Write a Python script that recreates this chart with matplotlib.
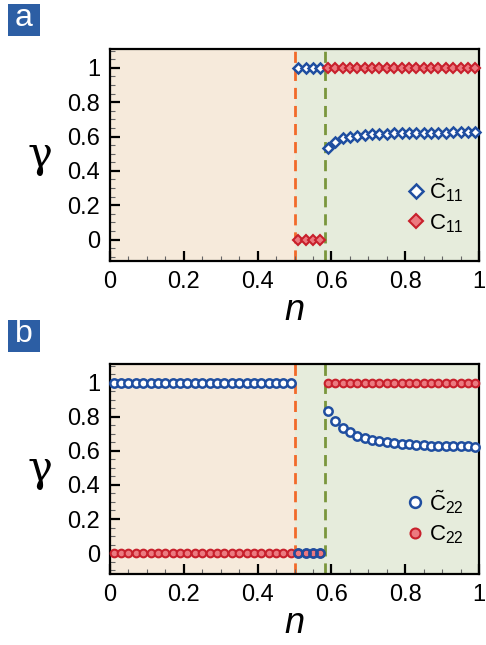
import numpy as np
import matplotlib.pyplot as plt
from matplotlib.patches import Rectangle
from matplotlib.ticker import MultipleLocator

plt.rcParams['font.family'] = ['Liberation Sans', 'DejaVu Sans']
plt.rcParams['mathtext.fontset'] = 'custom'
plt.rcParams['mathtext.rm'] = 'Liberation Sans'
plt.rcParams['mathtext.it'] = 'Liberation Sans:italic'

# n grid
n_mid = [0.51, 0.53, 0.55, 0.57]
n_right = [0.59, 0.61, 0.63, 0.65, 0.67, 0.69, 0.71, 0.73, 0.75, 0.77, 0.79,
           0.81, 0.83, 0.85, 0.87, 0.89, 0.91, 0.93, 0.95, 0.97, 0.99]
n_left = [0.01, 0.03, 0.05, 0.07, 0.09, 0.11, 0.13, 0.15, 0.17, 0.19, 0.21,
          0.23, 0.25, 0.27, 0.29, 0.31, 0.33, 0.35, 0.37, 0.39, 0.41, 0.43,
          0.45, 0.47, 0.49]

# panel a
c11t_n = n_mid + n_right
c11t = [1, 1, 1, 1,
        0.533, 0.566, 0.589, 0.600, 0.606, 0.610, 0.613, 0.615, 0.617, 0.618,
        0.619, 0.620, 0.621, 0.622, 0.622, 0.623, 0.623, 0.624, 0.624, 0.625, 0.625]
c11_n = n_mid + n_right
c11 = [0, 0, 0, 0] + [1.0] * 21

# panel b
c22t_n = n_left + n_right
c22t = [1.0] * 25 + [0.835, 0.773, 0.734, 0.708, 0.689, 0.676, 0.664, 0.656,
                     0.650, 0.645, 0.641, 0.638, 0.635, 0.633, 0.631, 0.630,
                     0.628, 0.627, 0.626, 0.626, 0.625]
c22t_mid = [0, 0, 0, 0]
c22_n = n_left + n_mid + n_right
c22 = [0.0] * 25 + [0, 0, 0, 0] + [1.0] * 21

n_c1 = 0.5
n_c2 = 0.583

blue = '#1f4ea0'
red_edge = '#c8202c'
red_face = '#ec7a80'
beige = '#f6eadb'
green = '#e6ecdc'

fig = plt.figure(figsize=(4.86, 6.45), dpi=100)
ax_a = fig.add_axes([0.2263, 0.5953, 0.7595, 0.3287])
ax_b = fig.add_axes([0.2263, 0.1095, 0.7595, 0.3262])

for ax in (ax_a, ax_b):
    ax.axvspan(0, n_c1, color=beige, zorder=0, lw=0)
    ax.axvspan(n_c1, 1, color=green, zorder=0, lw=0)
    ax.axvline(n_c1, color='#f26a2a', ls=(0, (4, 2.5)), lw=2, zorder=1)
    ax.axvline(n_c2, color='#7a963c', ls=(0, (4, 2.5)), lw=2, zorder=1)
    ax.set_xlim(0, 1)
    ax.set_ylim(-0.125, 1.11)
    ax.xaxis.set_minor_locator(MultipleLocator(0.05))
    ax.yaxis.set_minor_locator(MultipleLocator(0.05))
    ax.set_xticks([0, 0.2, 0.4, 0.6, 0.8, 1.0])
    ax.set_xticklabels(['0', '0.2', '0.4', '0.6', '0.8', '1'])
    ax.set_yticks([0, 0.2, 0.4, 0.6, 0.8, 1.0])
    ax.set_yticklabels(['0', '0.2', '0.4', '0.6', '0.8', '1'])
    ax.tick_params(which='major', direction='in', length=7, width=1.6, labelsize=17, pad=7)
    ax.tick_params(which='minor', direction='in', length=3.5, width=0.8, color='#666666')
    ax.tick_params(top=False, right=False)
    for s in ax.spines.values():
        s.set_linewidth(1.6)
    ax.set_xlabel('$n$', fontsize=26, labelpad=0)
    ax.set_ylabel('γ', fontsize=30, rotation=0, family='DejaVu Serif', labelpad=20, va='center')

ax_a.plot(c11t_n, c11t, 'D', ms=5.4, mfc='white', mec=blue, mew=1.8, ls='none',
          label=r'$\tilde{\mathrm{C}}_{11}$', zorder=3, clip_on=False)
ax_a.plot(c11_n, c11, 'D', ms=5.4, mfc=red_face, mec=red_edge, mew=1.5, ls='none',
          label=r'$\mathrm{C}_{11}$', zorder=3, clip_on=False)

ax_b.plot(c22_n, c22, 'o', ms=5.5, mfc=red_face, mec=red_edge, mew=1.5, ls='none',
          label=r'$\mathrm{C}_{22}$', zorder=3, clip_on=False)
ax_b.plot(c22t_n, c22t, 'o', ms=6, mfc='white', mec=blue, mew=1.8, ls='none',
          label=r'$\tilde{\mathrm{C}}_{22}$', zorder=4, clip_on=False)
ax_b.plot(n_mid, c22t_mid, 'o', ms=6, mfc='none', mec=blue, mew=1.8, ls='none', zorder=4)

ax_a.legend(loc='lower right', bbox_to_anchor=(1.0, 0.05), frameon=False, fontsize=16,
            handletextpad=0.1, handlelength=1.0, labelspacing=0.35, borderaxespad=0.3,
            markerscale=1.3)
h, l = ax_b.get_legend_handles_labels()
ax_b.legend([h[1], h[0]], [l[1], l[0]], loc='lower right', bbox_to_anchor=(1.0, 0.06),
            frameon=False, fontsize=16, handletextpad=0.1, handlelength=1.0,
            labelspacing=0.35, borderaxespad=0.3, markerscale=1.3)

# panel letters
for label, top in (('a', 4), ('b', 320)):
    x0, w, h_ = 8 / 486, 32 / 486, 32 / 645
    y0 = 1 - (top + 32) / 645
    fig.patches.append(Rectangle((x0, y0), w, h_, transform=fig.transFigure,
                                 fc='#2c5ea4', ec='none'))
    fig.text(x0 + w / 2, y0 + h_ / 2 + 0.003, label, color='white', fontsize=23,
             va='center', ha='center')

fig.savefig('out.png', dpi=100)
